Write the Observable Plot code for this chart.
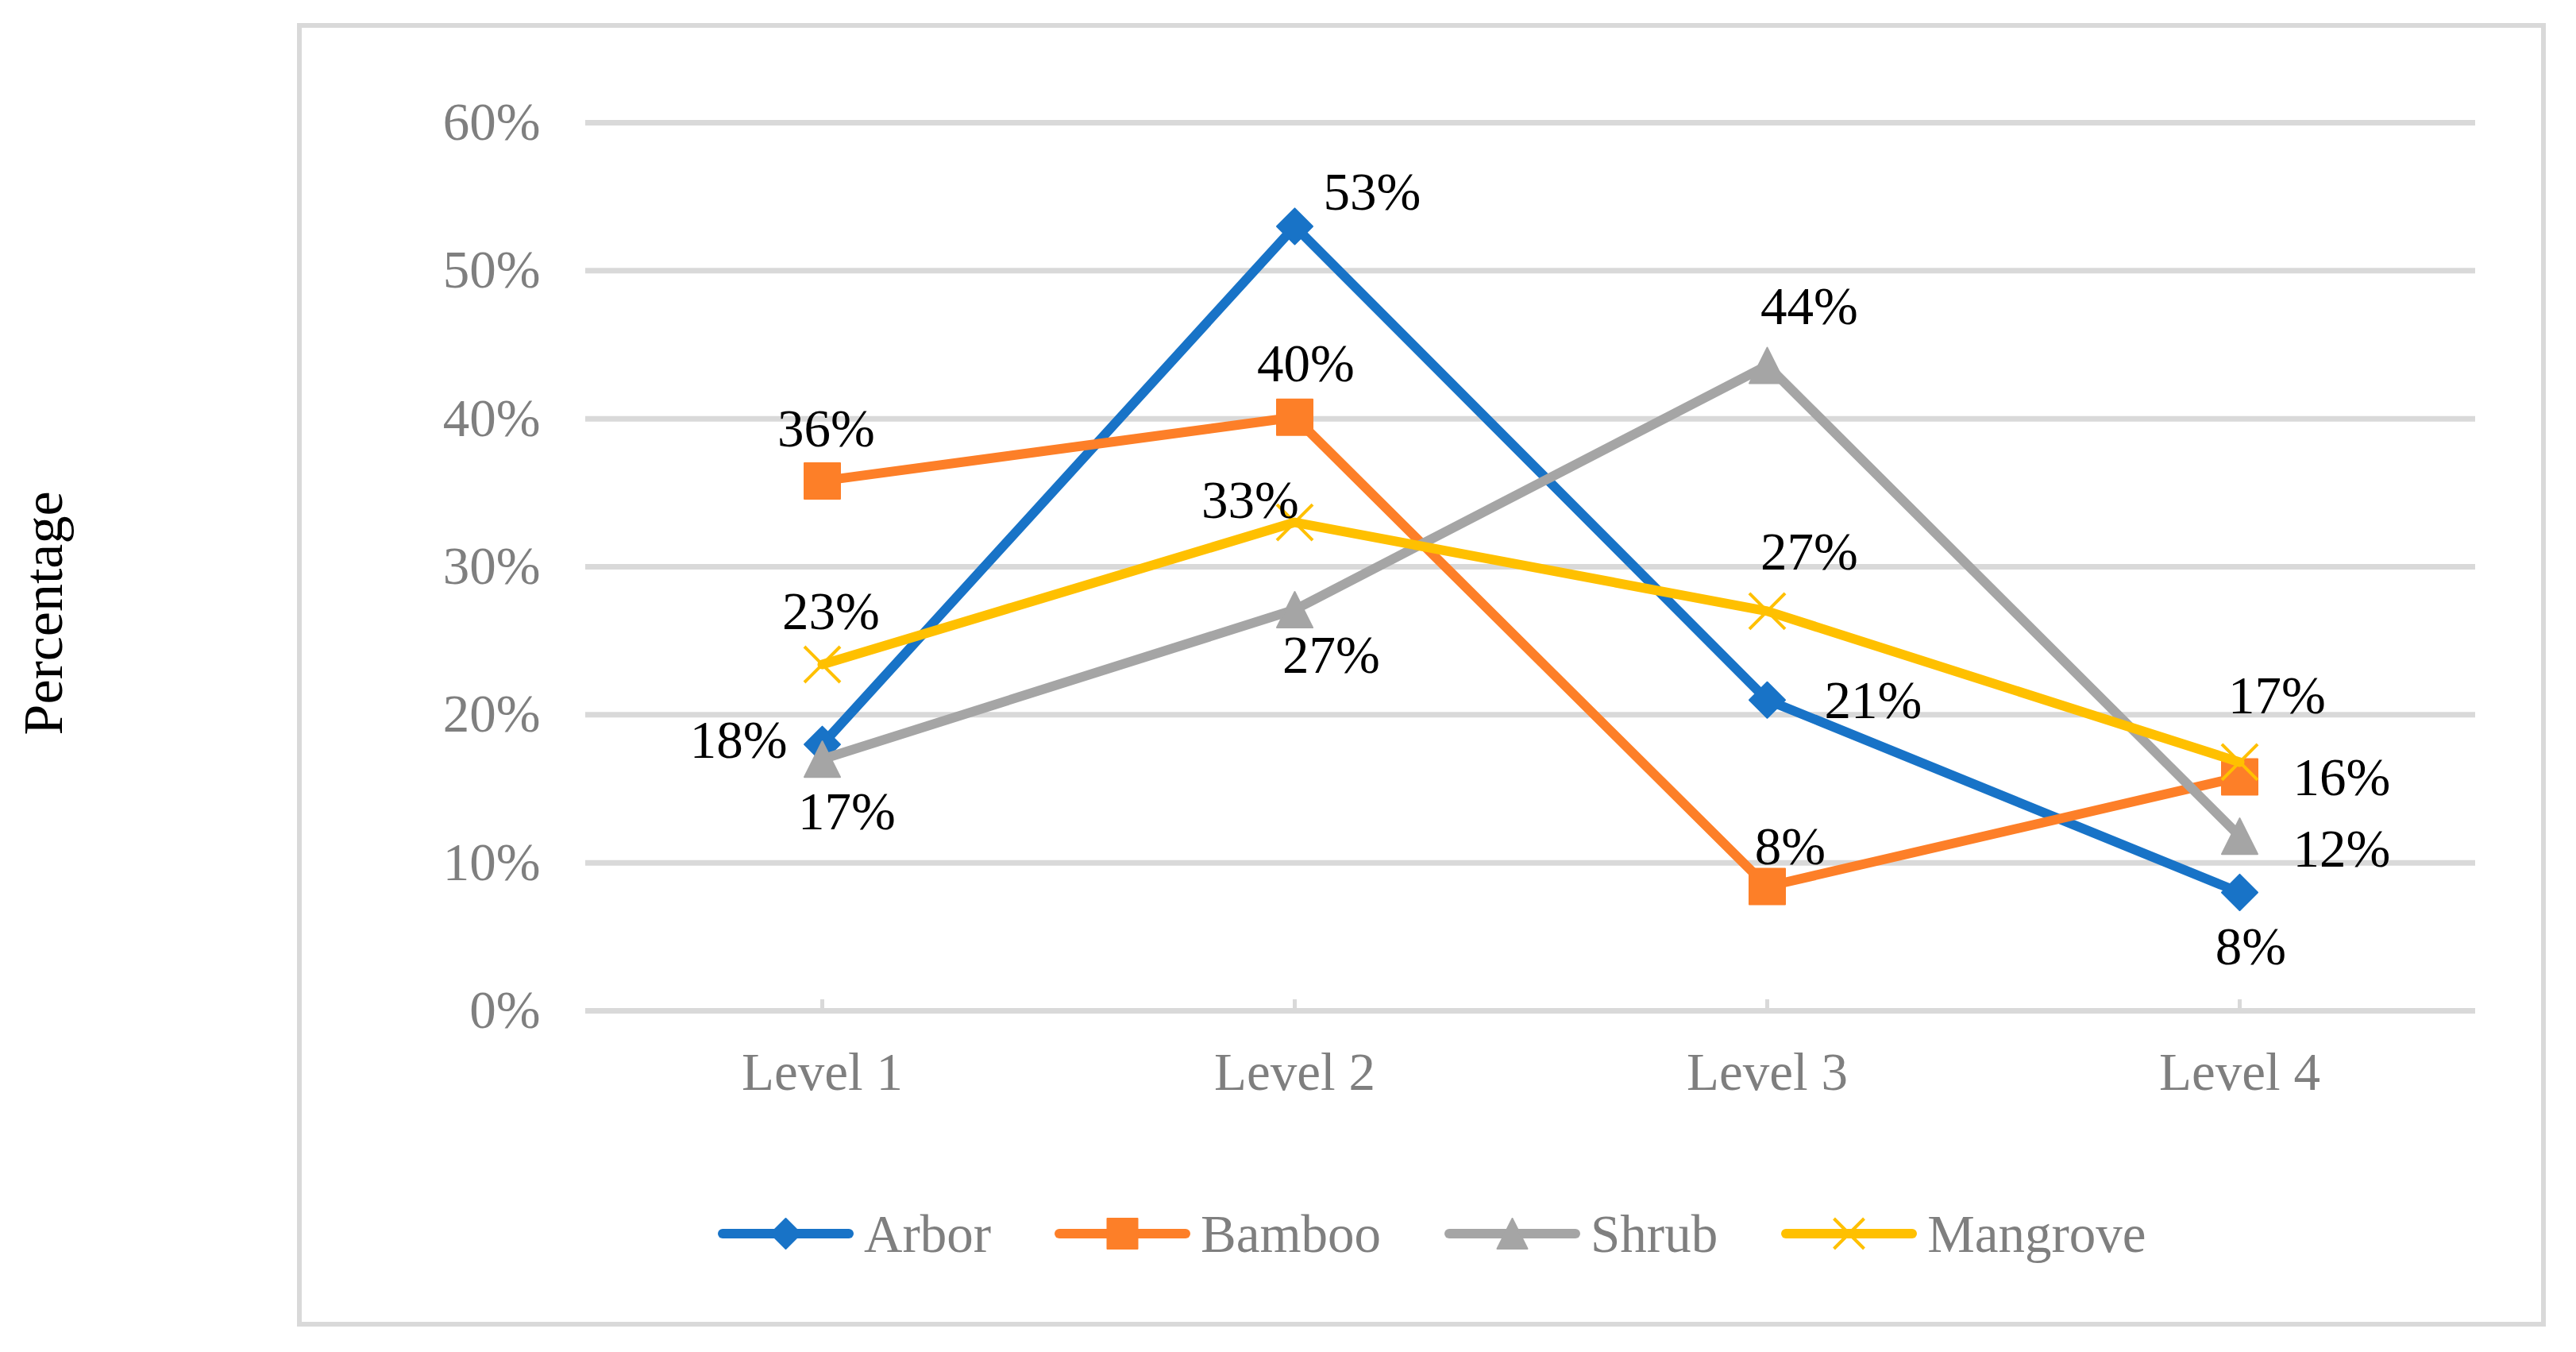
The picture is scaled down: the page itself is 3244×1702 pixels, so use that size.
<!DOCTYPE html>
<html>
<head>
<meta charset="utf-8">
<script src="https://cdn.jsdelivr.net/npm/d3@7"></script>
<script src="https://cdn.jsdelivr.net/npm/@observablehq/plot@0.6"></script>
<style>
  html, body { margin: 0; padding: 0; background: #fff; }
  #wrap { position: relative; width: 3244px; height: 1702px; font-family: "Liberation Serif", "Times New Roman", serif; overflow: hidden; }
  #wrap svg.chart { position: absolute; left: 0; top: 0; }
  #frame { position: absolute; left: 374px; top: 29px; width: 2832px; height: 1641px; box-sizing: border-box; border: 6px solid #d9d9d9; pointer-events: none; }
  #ytitle { position: absolute; left: -145px; top: 732px; width: 400px; height: 80px; line-height: 80px; text-align: center; font-size: 70px; color: #000; transform: rotate(-90deg); white-space: nowrap; }
  #legend { position: absolute; left: 904px; top: 1523px; height: 60px; display: flex; align-items: center; gap: 80px; }
  #legend .item { display: flex; align-items: center; height: 60px; }
  #legend .item span { margin-left: 13px; font-size: 67px; line-height: 60px; color: #7f7f7f; white-space: nowrap; }
</style>
</head>
<body>
<div id="wrap"></div>
<script>
// ---------- data ----------
const levels = ["Level 1", "Level 2", "Level 3", "Level 4"];
const seriesNames = ["Arbor", "Bamboo", "Shrub", "Mangrove"];
const arbor = [0.18, 0.53, 0.21, 0.08];
const bamboo = [0.358, 0.401, 0.084, 0.158];
const shrub = [0.170, 0.271, 0.436, 0.118];
const mangrove = [0.234, 0.330, 0.270, 0.168];
const yTicks = [0, 0.1, 0.2, 0.3, 0.4, 0.5, 0.6];
const yTitle = "Percentage";

// ---------- styling ----------
const seriesValues = {Arbor: arbor, Bamboo: bamboo, Shrub: shrub, Mangrove: mangrove};
const colors = {Arbor: "#1873c7", Bamboo: "#fd7f28", Shrub: "#a5a5a5", Mangrove: "#ffc000"};
const sym = {
  diamond: {draw(c, size) { const s = Math.sqrt(size) / 2; c.moveTo(0, -s); c.lineTo(s, 0); c.lineTo(0, s); c.lineTo(-s, 0); c.closePath(); }},
  square: {draw(c, size) { const s = Math.sqrt(size) / 2; c.rect(-s, -s, 2 * s, 2 * s); }},
  triangle: {draw(c, size) { const s = Math.sqrt(size) / 2; c.moveTo(0, -s); c.lineTo(s, s); c.lineTo(-s, s); c.closePath(); }},
  times: {draw(c, size) { const s = Math.sqrt(size) / 2; c.moveTo(-s, -s); c.lineTo(s, s); c.moveTo(s, -s); c.lineTo(-s, s); }}
};
const markers = {Arbor: sym.diamond, Bamboo: sym.square, Shrub: sym.triangle, Mangrove: sym.times};
const markerSize = 45;
const markerR = markerSize / Math.sqrt(Math.PI);
// label placement: [textAnchor, dx, dy]
const labelPlacement = {
  Arbor:    [["end", -44, 17], ["start", 36, -21], ["start", 72, 23], ["middle", 14, 91]],
  Bamboo:   [["middle", 5, -43], ["middle", 14, -45], ["middle", 29, -28], ["start", 67, 23]],
  Shrub:    [["middle", 31, 88], ["middle", 46, 79], ["middle", 53, -52], ["start", 67, 38]],
  Mangrove: [["middle", 11, -44], ["middle", -56, -6], ["middle", 53, -52], ["middle", 47, -61]]
};

const rows = seriesNames.flatMap(s => levels.map((l, i) => ({series: s, level: l, value: seriesValues[s][i], idx: i})));
const pct = d3.format(".0%");
const gray = "#7f7f7f";
const grid = "#d9d9d9";

const seriesMarks = seriesNames.flatMap(s => {
  const d = rows.filter(r => r.series === s);
  const isX = s === "Mangrove";
  return [
    Plot.line(d, {x: "level", y: "value", stroke: colors[s], strokeWidth: 12, strokeLinejoin: "round", strokeLinecap: "round"}),
    Plot.dot(d, {x: "level", y: "value", symbol: markers[s], r: markerR,
      fill: isX ? "none" : colors[s], stroke: colors[s], strokeWidth: isX ? 4 : 2, strokeLinejoin: "round"})
  ];
});

const labelMarks = rows.map(r => {
  const [anchor, dx, dy] = labelPlacement[r.series][r.idx];
  return Plot.text([r], {x: "level", y: "value", text: d => pct(d.value), textAnchor: anchor, lineAnchor: "bottom",
    dx, dy, fill: "#000", fontSize: 67});
});

const chart = Plot.plot({
  width: 3244,
  height: 1702,
  marginLeft: 737,
  marginRight: 127,
  marginTop: 154,
  marginBottom: 430,
  className: "chart",
  style: {fontFamily: '"Liberation Serif", "Times New Roman", serif', fontSize: "67px", background: "transparent", overflow: "visible"},
  x: {type: "point", domain: levels, padding: 0.5},
  y: {domain: [0, 0.6]},
  marks: [
    Plot.ruleY(yTicks, {stroke: grid, strokeWidth: 7}),
    Plot.ruleX(levels, {x: d => d, y1: 0, y2: 0, insetTop: -14, stroke: grid, strokeWidth: 5}),
    Plot.axisY({ticks: yTicks, tickFormat: pct, tickSize: 0, tickPadding: 57, color: gray, label: null, fontSize: 67}),
    Plot.axisX({tickSize: 0, tickPadding: 52, color: gray, label: null, fontSize: 67}),
    ...seriesMarks,
    ...labelMarks
  ]
});
chart.classList.add("chart");

const wrap = document.getElementById("wrap");
wrap.appendChild(chart);

const frame = document.createElement("div");
frame.id = "frame";
wrap.appendChild(frame);

const yt = document.createElement("div");
yt.id = "ytitle";
yt.textContent = yTitle;
wrap.appendChild(yt);

// legend
const legend = document.createElement("div");
legend.id = "legend";
const legendMarker = 38;
seriesNames.forEach(s => {
  const item = document.createElement("div");
  item.className = "item";
  const svg = d3.create("svg").attr("width", 171).attr("height", 60);
  svg.append("line").attr("x1", 6).attr("x2", 165).attr("y1", 30).attr("y2", 30)
    .attr("stroke", colors[s]).attr("stroke-width", 12).attr("stroke-linecap", "round");
  const isX = s === "Mangrove";
  svg.append("path").attr("transform", "translate(85.5,30)")
    .attr("d", d3.symbol(markers[s], legendMarker * legendMarker)())
    .attr("fill", isX ? "none" : colors[s]).attr("stroke", colors[s])
    .attr("stroke-width", isX ? 4 : 2).attr("stroke-linejoin", "round");
  item.appendChild(svg.node());
  const span = document.createElement("span");
  span.textContent = s;
  item.appendChild(span);
  legend.appendChild(item);
});
wrap.appendChild(legend);
</script>
</body>
</html>
